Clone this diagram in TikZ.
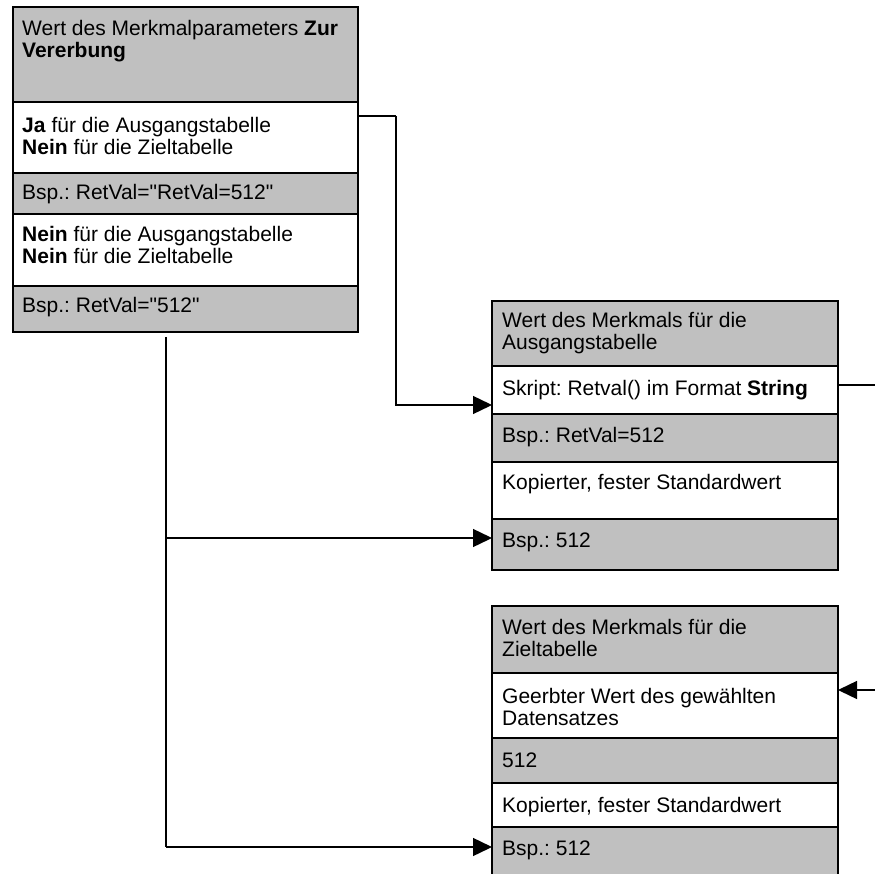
\documentclass[tikz,border=0pt]{standalone}
\usepackage{fontspec}
% plain family without TeX ligatures, so straight quotes stay straight
\newfontfamily\cellfont{Liberation Sans}
\setmainfont{Liberation Sans}
\usetikzlibrary{arrows.meta,calc}
\definecolor{cellgray}{HTML}{C0C0C0}
\begin{document}
\frenchspacing
\begin{tikzpicture}[x=1pt,y=-1pt,
  cell/.style={draw=black, line width=1.6pt, anchor=north west, inner sep=0pt, outer sep=0pt},
  graycell/.style={cell, fill=cellgray},
  whitecell/.style={cell, fill=white},
  txt/.style={anchor=base west, inner sep=0pt, align=left, font=\cellfont\fontsize{21}{22}\selectfont},
  link/.style={draw=black, line width=1.4pt},
  arrowlink/.style={link, -{Triangle[length=19pt,width=18pt]}}]
\useasboundingbox (0,0) rectangle (875,874);
\clip (0,0) rectangle (875,874);

% left table: inheritance parameter
\node[graycell,  minimum width=345pt, minimum height=95pt] (L1) at (13,7) {};
\node[whitecell, minimum width=345pt, minimum height=71pt] (L2) at (13,102) {};
\node[graycell,  minimum width=345pt, minimum height=41pt] (L3) at (13,173) {};
\node[whitecell, minimum width=345pt, minimum height=72pt] (L4) at (13,214) {};
\node[graycell,  minimum width=345pt, minimum height=46pt] (L5) at (13,286) {};
% multi-line labels are placed by the baseline of their last line
\node[txt] (L1t) at (22,58) {Wert des Merkmalparameters \textbf{Zur}\\\textbf{Vererbung}};
\node[txt] (L2t) at (22,155) {\textbf{Ja} für die Ausgangstabelle\\\textbf{Nein} für die Zieltabelle};
\node[txt] (L3t) at (22,200) {Bsp.: RetVal="RetVal=512"};
\node[txt] (L4t) at (22,264) {\textbf{Nein} für die Ausgangstabelle\\\textbf{Nein} für die Zieltabelle};
\node[txt] (L5t) at (22,313) {Bsp.: RetVal="512"};

% right table: source table
\node[graycell,  minimum width=346pt, minimum height=65pt] (R1) at (492,301) {};
\node[whitecell, minimum width=346pt, minimum height=48pt] (R2) at (492,366) {};
\node[graycell,  minimum width=346pt, minimum height=48pt] (R3) at (492,414) {};
\node[whitecell, minimum width=346pt, minimum height=57pt] (R4) at (492,462) {};
\node[graycell,  minimum width=346pt, minimum height=51pt] (R5) at (492,519) {};
\node[txt] (R1t) at (502,350) {Wert des Merkmals für die\\Ausgangstabelle};
\node[txt] (R2t) at (502,395) {Skript: Retval() im Format \textbf{String}};
\node[txt] (R3t) at (502,442) {Bsp.: RetVal=512};
\node[txt] (R4t) at (502,489) {Kopierter, fester Standardwert};
\node[txt] (R5t) at (502,547) {Bsp.: 512};

% right table: target table
\node[graycell,  minimum width=346pt, minimum height=67pt] (Z1) at (492,606) {};
\node[whitecell, minimum width=346pt, minimum height=65pt] (Z2) at (492,673) {};
\node[graycell,  minimum width=346pt, minimum height=45pt] (Z3) at (492,738) {};
\node[whitecell, minimum width=346pt, minimum height=44pt] (Z4) at (492,783) {};
\node[graycell,  minimum width=346pt, minimum height=80pt] (Z5) at (492,827) {};
\node[txt] (Z1t) at (502,656) {Wert des Merkmals für die\\Zieltabelle};
\node[txt] (Z2t) at (502,725) {Geerbter Wert des gewählten\\Datensatzes};
\node[txt] (Z3t) at (502,767) {512};
\node[txt] (Z4t) at (502,812) {Kopierter, fester Standardwert};
\node[txt] (Z5t) at (502,855) {Bsp.: 512};

% connector end points
\coordinate (jaOut)   at ($(L2.north east)+(0,14)$);
\coordinate (jaBend)  at (396,116);
\coordinate (srcIn)   at ($(R2.south west)+(0,-9)$);
\coordinate (trunkTop) at (166,337);
\coordinate (trunkMid) at (166,538);
\coordinate (trunkBot) at (166,847);
\coordinate (srcBspIn) at (R5.west |- trunkMid);
\coordinate (tgtBspIn) at (Z5.west |- trunkBot);
\coordinate (scriptOut) at ($(R2.north east)+(0,19)$);
\coordinate (scriptEnd) at (876,385);
\coordinate (inhIn)   at ($(Z2.north east)+(0,17)$);
\coordinate (inhStart) at (876,690);

% connectors
\draw[link] (jaOut) -- (jaBend);
\draw[arrowlink] (jaBend) |- (srcIn);
\draw[link] (trunkTop) -- (trunkBot);
\draw[arrowlink] (trunkMid) -- (srcBspIn);
\draw[arrowlink] (trunkBot) -- (tgtBspIn);
\draw[link] (scriptOut) -- (scriptEnd);
\draw[arrowlink] (inhStart) -- (inhIn);
\end{tikzpicture}
\end{document}
